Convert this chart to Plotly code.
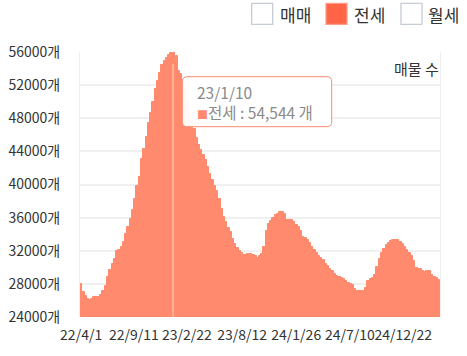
import pandas as pd
import plotly.graph_objects as go

# ---- data ----
start_date = "2022-04-01"
values = [
    27990, 27020, 26540, 26230, 26090, 26230, 26420, 26420, 26420, 26600,
    27200, 27780, 28830, 29620, 30400, 31000, 31970, 32090, 32460, 33060,
    34030, 34870, 35780, 36870, 38250, 39760, 40910, 43030, 44290, 45740,
    47440, 48640, 49970, 51480, 52450, 53410, 54380, 54920, 55290, 55590,
    55890, 55950, 55530, 53720, 53350, 52630, 51540, 50150, 48760, 47620,
    46650, 45620, 44780, 44170, 43570, 42970, 42120, 41270, 40550, 39820,
    39220, 38250, 37050, 36080, 35480, 34750, 34210, 33420, 32820, 32340,
    31970, 31730, 31430, 31430, 31550, 31550, 31430, 31310, 31130, 31370,
    31610, 32460, 34390, 35230, 35600, 35960, 36260, 36440, 36680, 36680,
    36380, 35720, 35660, 35660, 35420, 35110, 34870, 34390, 33720, 33480,
    33300, 32880, 32460, 32090, 31670, 31370, 31070, 30830, 30460, 30100,
    29800, 29560, 29250, 28950, 28830, 28770, 28590, 28290, 28050, 27930,
    27810, 27440, 27140, 27140, 27140, 27200, 27500, 28350, 28590, 28770,
    29070, 30040, 31010, 31730, 32210, 32640, 32880, 33120, 33240, 33300,
    33300, 33060, 32820, 32460, 32090, 31730, 31370, 30760, 29920, 29740,
    29740, 29560, 29440, 29560, 29560, 29070, 28890, 28710, 28470,
]
dates = pd.date_range(start=start_date, periods=len(values), freq="7D")

tick_dates = ["2022-04-01", "2022-09-11", "2023-02-22", "2023-08-12",
              "2024-01-26", "2024-07-10", "2024-12-22"]
tick_labels = ["22/4/1", "22/9/11", "23/2/22", "23/8/12",
               "24/1/26", "24/7/10", "24/12/22"]
y_ticks = [24000, 28000, 32000, 36000, 40000, 44000, 48000, 52000, 56000]

legend_names = ["매매", "전세", "월세"]
series_name = "전세"
highlight_date = "2023-01-10"
highlight_label = "23/1/10"
highlight_value = 54544

# ---- style ----
W, H = 467, 356
L, R, T, B = 80, 27, 52, 39
BAR = "#ff8a6e"
HL = "#ffb096"
FONT = "Noto Sans CJK KR"
DAY_MS = 86400000


def px(x):
    return (x - L) / (W - L - R)


def py(y):
    return (H - B - y) / (H - T - B)


fig = go.Figure()
fig.add_trace(go.Bar(x=dates, y=values, width=8 * DAY_MS,
                     marker=dict(color=BAR, line=dict(color=BAR, width=1)),
                     name=series_name, showlegend=False))
fig.add_trace(go.Bar(x=[pd.Timestamp(highlight_date)], y=[highlight_value],
                     width=6 * DAY_MS,
                     marker=dict(color=HL, line=dict(width=0)),
                     showlegend=False))

shapes = []
annotations = []

# legend
legend_boxes = [(251.7, 272.7), (326, 347), (401, 422)]
legend_text_x = [278, 352, 426]
for i, name in enumerate(legend_names):
    x0, x1 = legend_boxes[i]
    active = name == series_name
    shapes.append(dict(type="rect", xref="paper", yref="paper",
                       x0=px(x0), x1=px(x1), y0=py(24.3), y1=py(3.3),
                       line=dict(color="#ff9f87" if active else "#c6cbd6", width=1.3),
                       fillcolor="#ff6446" if active else "white"))
    annotations.append(dict(text=name, xref="paper", yref="paper",
                            x=px(legend_text_x[i]), y=py(14), xanchor="left",
                            yanchor="middle", showarrow=False,
                            font=dict(family=FONT, size=17, color="#333")))

# axis name
annotations.append(dict(text="매물 수", xref="paper", yref="paper",
                        x=px(441), y=py(68), xanchor="right", yanchor="middle",
                        showarrow=False, font=dict(family=FONT, size=15, color="#333")))

# tooltip box (rounded rect)
bx0, bx1, by0, by1, r = px(182.3), px(331.7), py(126.7), py(76.7), 5
rx, ry = r / (W - L - R), r / (H - T - B)
path = (f"M {bx0+rx},{by0} L {bx1-rx},{by0} Q {bx1},{by0} {bx1},{by0+ry} "
        f"L {bx1},{by1-ry} Q {bx1},{by1} {bx1-rx},{by1} L {bx0+rx},{by1} "
        f"Q {bx0},{by1} {bx0},{by1-ry} L {bx0},{by0+ry} Q {bx0},{by0} {bx0+rx},{by0} Z")
shapes.append(dict(type="path", xref="paper", yref="paper", path=path,
                   line=dict(color=BAR, width=1), fillcolor="rgba(255,255,255,0.95)"))
tooltip_text = (f"{highlight_label}<br>"
                f"<span style='color:{BAR};font-size:11px'>■</span>"
                f"{series_name} : {highlight_value:,} 개")
annotations.append(dict(text=tooltip_text, xref="paper", yref="paper",
                        x=px(195), y=py(102.5), xanchor="left", yanchor="middle",
                        align="left", showarrow=False,
                        font=dict(family=FONT, size=15.5, color="#8a8a8a")))

fig.update_layout(
    width=W, height=H,
    margin=dict(l=L, r=R, t=T, b=B, pad=0),
    paper_bgcolor="white", plot_bgcolor="white",
    barmode="overlay", bargap=0,
    font=dict(family=FONT, size=14, color="#333"),
    shapes=shapes, annotations=annotations,
    showlegend=False,
)
fig.update_xaxes(type="date", automargin=False,
                 range=[pd.Timestamp(start_date) - pd.Timedelta(hours=84),
                        dates[-1] + pd.Timedelta(hours=84)],
                 tickvals=tick_dates, ticktext=tick_labels, tickangle=0,
                 showgrid=False, zeroline=False, showline=False,
                 ticks="", ticklabelstandoff=8,
                 tickfont=dict(family=FONT, size=14, color="#333"))
fig.update_yaxes(range=[24000, 56000], tickvals=y_ticks, automargin=False,
                 ticktext=[f"{v}개" for v in y_ticks],
                 showgrid=True, gridcolor="#f0f0f0", gridwidth=1.5,
                 zeroline=False, showline=True, mirror=True,
                 linecolor="#eeeeee", linewidth=1, layer="below traces",
                 ticks="", ticklabelstandoff=16,
                 tickfont=dict(family=FONT, size=14, color="#333"))

fig.write_html("out.html", config={"displayModeBar": False},
               post_script="document.body.style.margin='0';document.body.style.overflow='hidden';")
